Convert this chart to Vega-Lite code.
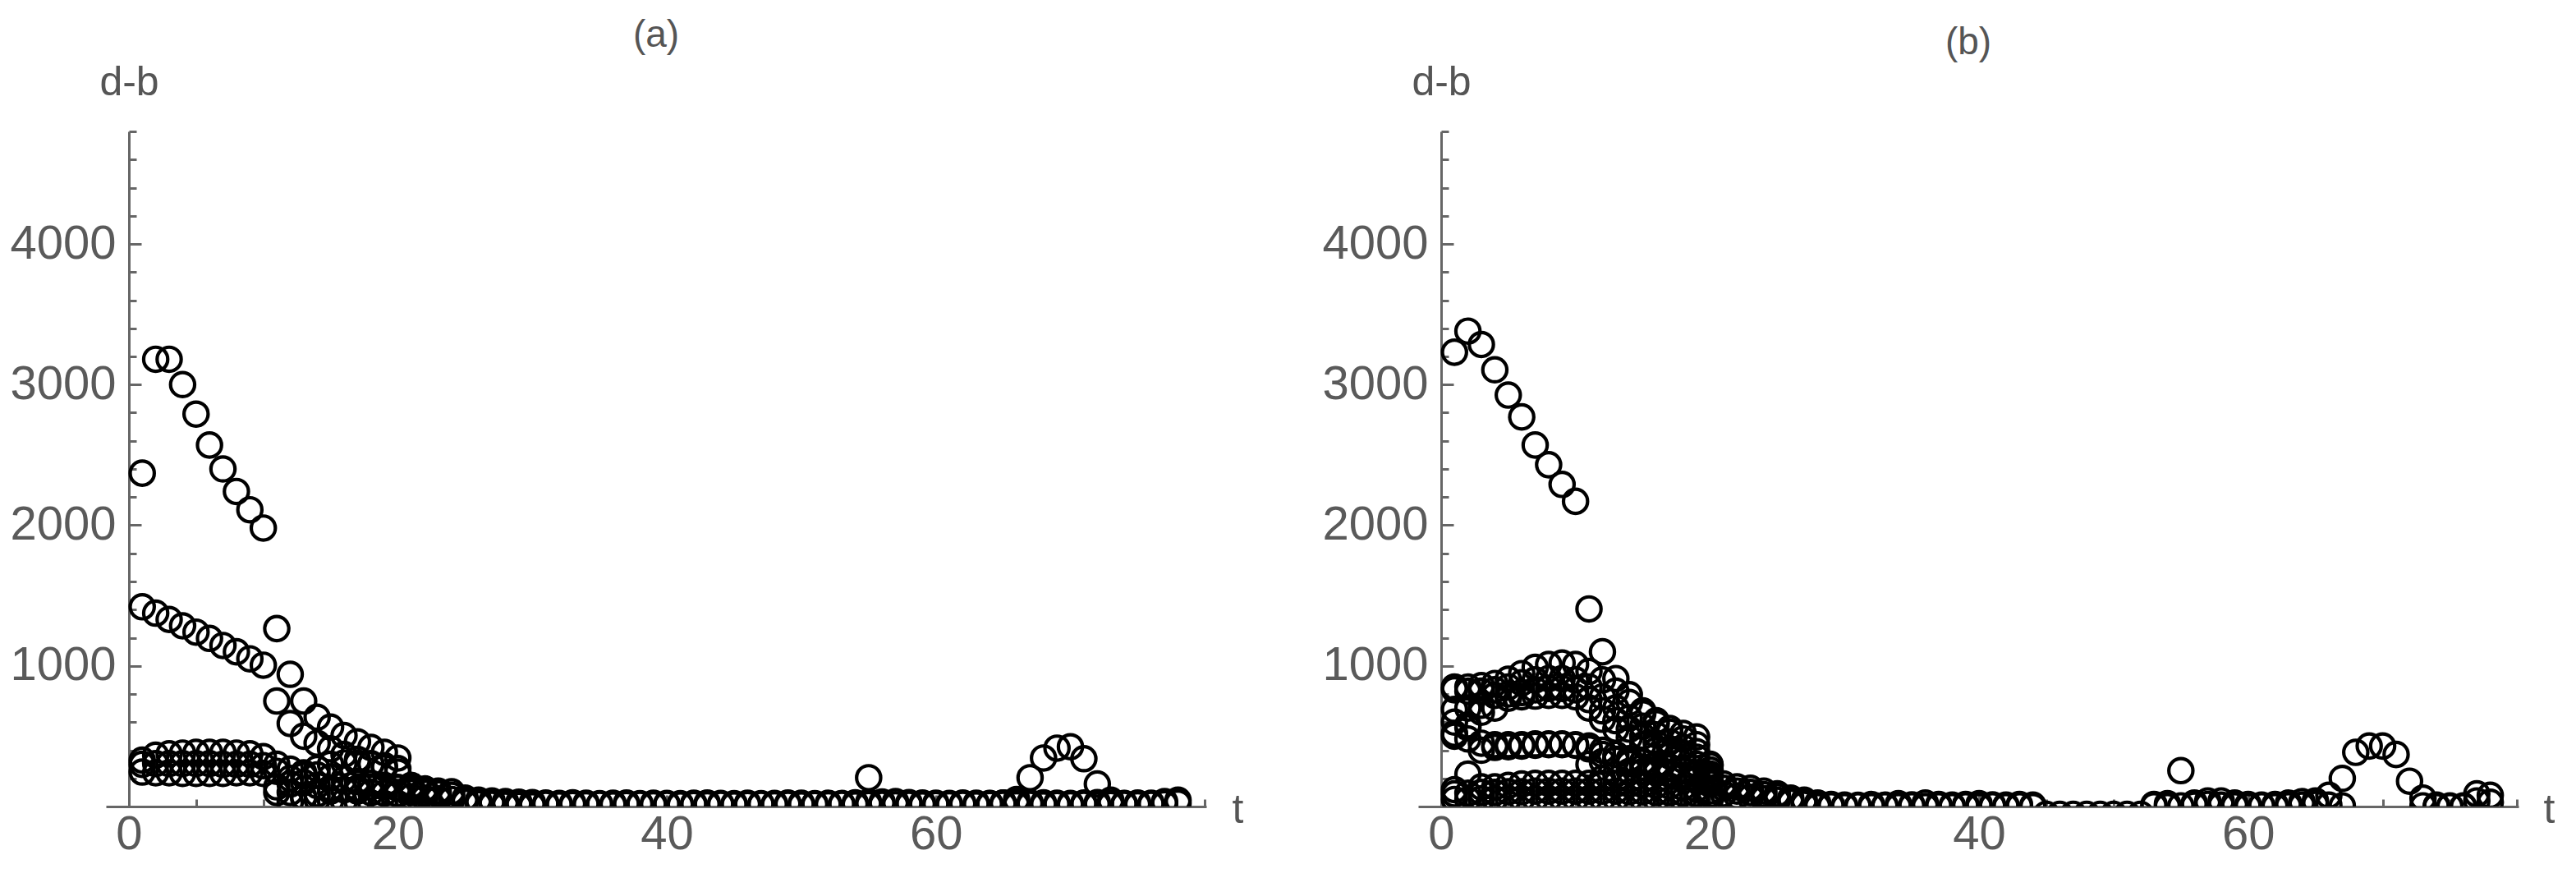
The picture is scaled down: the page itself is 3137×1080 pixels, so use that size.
{
"$schema": "https://vega.github.io/schema/vega-lite/v6.json",
"background": "white",
"padding": {"left": 11, "top": 20, "right": 0, "bottom": 0},
"bounds": "flush",
"spacing": 258,
"config": {"view": {"stroke": null}, "font": "Liberation Sans"},
"data": {"values": [
{"p":"a","t":1,"v":2370},{"p":"a","t":2,"v":3180},{"p":"a","t":3,"v":3180},{"p":"a","t":4,"v":3000},{"p":"a","t":5,"v":2790},{"p":"a","t":6,"v":2570},{"p":"a","t":7,"v":2400},{"p":"a","t":8,"v":2240},{"p":"a","t":9,"v":2110},{"p":"a","t":10,"v":1980},{"p":"a","t":11,"v":1265},{"p":"a","t":12,"v":940},{"p":"a","t":13,"v":750},{"p":"a","t":14,"v":635},{"p":"a","t":15,"v":565},{"p":"a","t":16,"v":505},{"p":"a","t":17,"v":460},{"p":"a","t":18,"v":420},{"p":"a","t":19,"v":385},{"p":"a","t":20,"v":345},{"p":"a","t":21,"v":150},{"p":"a","t":22,"v":125},
{"p":"a","t":1,"v":1420},{"p":"a","t":2,"v":1375},{"p":"a","t":3,"v":1330},{"p":"a","t":4,"v":1285},{"p":"a","t":5,"v":1240},{"p":"a","t":6,"v":1195},{"p":"a","t":7,"v":1145},{"p":"a","t":8,"v":1100},{"p":"a","t":9,"v":1050},{"p":"a","t":10,"v":1005},{"p":"a","t":11,"v":750},{"p":"a","t":12,"v":590},{"p":"a","t":13,"v":500},{"p":"a","t":14,"v":450},{"p":"a","t":15,"v":410},{"p":"a","t":16,"v":370},{"p":"a","t":17,"v":335},{"p":"a","t":18,"v":305},{"p":"a","t":19,"v":275},{"p":"a","t":20,"v":245},{"p":"a","t":21,"v":135},
{"p":"a","t":1,"v":330},{"p":"a","t":2,"v":365},{"p":"a","t":3,"v":375},{"p":"a","t":4,"v":380},{"p":"a","t":5,"v":385},{"p":"a","t":6,"v":385},{"p":"a","t":7,"v":385},{"p":"a","t":8,"v":380},{"p":"a","t":9,"v":375},{"p":"a","t":10,"v":355},{"p":"a","t":11,"v":300},{"p":"a","t":12,"v":265},{"p":"a","t":13,"v":240},{"p":"a","t":14,"v":225},{"p":"a","t":15,"v":210},{"p":"a","t":16,"v":195},{"p":"a","t":17,"v":180},{"p":"a","t":18,"v":165},{"p":"a","t":19,"v":150},{"p":"a","t":20,"v":135},
{"p":"a","t":1,"v":300},{"p":"a","t":2,"v":305},{"p":"a","t":3,"v":305},{"p":"a","t":4,"v":305},{"p":"a","t":5,"v":305},{"p":"a","t":6,"v":305},{"p":"a","t":7,"v":300},{"p":"a","t":8,"v":300},{"p":"a","t":9,"v":300},{"p":"a","t":10,"v":290},{"p":"a","t":11,"v":250},{"p":"a","t":12,"v":200},{"p":"a","t":13,"v":170},{"p":"a","t":14,"v":150},{"p":"a","t":15,"v":130},{"p":"a","t":16,"v":120},{"p":"a","t":17,"v":110},{"p":"a","t":18,"v":100},{"p":"a","t":19,"v":95},{"p":"a","t":20,"v":90},
{"p":"a","t":1,"v":245},{"p":"a","t":2,"v":240},{"p":"a","t":3,"v":240},{"p":"a","t":4,"v":235},{"p":"a","t":5,"v":235},{"p":"a","t":6,"v":235},{"p":"a","t":7,"v":235},{"p":"a","t":8,"v":240},{"p":"a","t":9,"v":240},{"p":"a","t":10,"v":235},{"p":"a","t":11,"v":140},{"p":"a","t":12,"v":100},{"p":"a","t":13,"v":70},{"p":"a","t":14,"v":50},{"p":"a","t":15,"v":40},{"p":"a","t":16,"v":35},{"p":"a","t":17,"v":30},{"p":"a","t":18,"v":25},{"p":"a","t":19,"v":20},{"p":"a","t":20,"v":20},
{"p":"a","t":11,"v":100},{"p":"a","t":12,"v":160},{"p":"a","t":13,"v":220},{"p":"a","t":14,"v":270},{"p":"a","t":15,"v":300},{"p":"a","t":16,"v":310},{"p":"a","t":17,"v":310},{"p":"a","t":18,"v":300},{"p":"a","t":19,"v":290},{"p":"a","t":20,"v":270},
{"p":"a","t":12,"v":30},{"p":"a","t":13,"v":60},{"p":"a","t":14,"v":90},{"p":"a","t":15,"v":110},{"p":"a","t":16,"v":120},{"p":"a","t":17,"v":130},{"p":"a","t":18,"v":140},{"p":"a","t":19,"v":140},{"p":"a","t":20,"v":130},
{"p":"a","t":21,"v":120},{"p":"a","t":22,"v":115},{"p":"a","t":23,"v":110},{"p":"a","t":24,"v":105},{"p":"a","t":25,"v":60},{"p":"a","t":26,"v":45},{"p":"a","t":27,"v":40},{"p":"a","t":28,"v":35},{"p":"a","t":29,"v":30},{"p":"a","t":30,"v":28},
{"p":"a","t":31,"v":25},{"p":"a","t":32,"v":22},{"p":"a","t":33,"v":26},{"p":"a","t":34,"v":24},{"p":"a","t":35,"v":20},{"p":"a","t":36,"v":23},{"p":"a","t":37,"v":25},{"p":"a","t":38,"v":21},{"p":"a","t":39,"v":24},{"p":"a","t":40,"v":22},
{"p":"a","t":41,"v":20},{"p":"a","t":42,"v":23},{"p":"a","t":43,"v":25},{"p":"a","t":44,"v":22},{"p":"a","t":45,"v":21},{"p":"a","t":46,"v":24},{"p":"a","t":47,"v":20},{"p":"a","t":48,"v":22},{"p":"a","t":49,"v":25},{"p":"a","t":50,"v":23},
{"p":"a","t":51,"v":21},{"p":"a","t":52,"v":24},{"p":"a","t":53,"v":22},{"p":"a","t":54,"v":26},{"p":"a","t":55,"v":30},{"p":"a","t":56,"v":32},{"p":"a","t":57,"v":35},{"p":"a","t":58,"v":28},{"p":"a","t":59,"v":25},{"p":"a","t":60,"v":24},
{"p":"a","t":61,"v":22},{"p":"a","t":62,"v":25},{"p":"a","t":63,"v":24},{"p":"a","t":64,"v":22},{"p":"a","t":65,"v":25},{"p":"a","t":66,"v":30},{"p":"a","t":67,"v":28},{"p":"a","t":68,"v":26},{"p":"a","t":69,"v":24},{"p":"a","t":70,"v":22},
{"p":"a","t":71,"v":25},{"p":"a","t":72,"v":28},{"p":"a","t":73,"v":24},{"p":"a","t":74,"v":22},{"p":"a","t":75,"v":25},{"p":"a","t":76,"v":24},{"p":"a","t":77,"v":35},{"p":"a","t":78,"v":45},
{"p":"a","t":21,"v":100},{"p":"a","t":22,"v":95},{"p":"a","t":23,"v":90},{"p":"a","t":24,"v":80},{"p":"a","t":25,"v":45},{"p":"a","t":26,"v":35},{"p":"a","t":27,"v":30},{"p":"a","t":28,"v":25},{"p":"a","t":29,"v":20},{"p":"a","t":30,"v":18},
{"p":"a","t":31,"v":15},{"p":"a","t":32,"v":12},{"p":"a","t":33,"v":14},{"p":"a","t":34,"v":13},{"p":"a","t":35,"v":15},{"p":"a","t":36,"v":12},{"p":"a","t":37,"v":14},{"p":"a","t":38,"v":16},{"p":"a","t":39,"v":13},{"p":"a","t":40,"v":15},
{"p":"a","t":41,"v":12},{"p":"a","t":42,"v":14},{"p":"a","t":43,"v":13},{"p":"a","t":44,"v":15},{"p":"a","t":45,"v":12},{"p":"a","t":46,"v":14},{"p":"a","t":47,"v":16},{"p":"a","t":48,"v":13},{"p":"a","t":49,"v":15},{"p":"a","t":50,"v":12},
{"p":"a","t":51,"v":14},{"p":"a","t":52,"v":13},{"p":"a","t":53,"v":15},{"p":"a","t":54,"v":12},{"p":"a","t":55,"v":14},{"p":"a","t":56,"v":16},{"p":"a","t":57,"v":13},{"p":"a","t":58,"v":15},{"p":"a","t":59,"v":12},{"p":"a","t":60,"v":14},
{"p":"a","t":61,"v":13},{"p":"a","t":62,"v":15},{"p":"a","t":63,"v":12},{"p":"a","t":64,"v":14},{"p":"a","t":65,"v":16},{"p":"a","t":66,"v":13},{"p":"a","t":67,"v":15},{"p":"a","t":68,"v":12},{"p":"a","t":69,"v":14},{"p":"a","t":70,"v":13},
{"p":"a","t":71,"v":15},{"p":"a","t":72,"v":12},{"p":"a","t":73,"v":14},{"p":"a","t":74,"v":16},{"p":"a","t":75,"v":13},{"p":"a","t":76,"v":15},{"p":"a","t":77,"v":20},{"p":"a","t":78,"v":25},
{"p":"a","t":21,"v":70},{"p":"a","t":22,"v":60},{"p":"a","t":23,"v":55},{"p":"a","t":24,"v":50},{"p":"a","t":25,"v":30},{"p":"a","t":26,"v":20},{"p":"a","t":27,"v":15},{"p":"a","t":28,"v":10},{"p":"a","t":29,"v":8},{"p":"a","t":30,"v":6},
{"p":"a","t":64,"v":20},{"p":"a","t":65,"v":25},{"p":"a","t":66,"v":50},{"p":"a","t":67,"v":205},{"p":"a","t":68,"v":345},{"p":"a","t":69,"v":415},{"p":"a","t":70,"v":425},{"p":"a","t":71,"v":340},{"p":"a","t":72,"v":160},{"p":"a","t":73,"v":45},{"p":"a","t":74,"v":20},
{"p":"a","t":55,"v":205},
{"p":"b","t":1,"v":3230},{"p":"b","t":2,"v":3380},{"p":"b","t":3,"v":3285},{"p":"b","t":4,"v":3105},{"p":"b","t":5,"v":2925},{"p":"b","t":6,"v":2770},{"p":"b","t":7,"v":2570},{"p":"b","t":8,"v":2430},{"p":"b","t":9,"v":2290},{"p":"b","t":10,"v":2170},{"p":"b","t":11,"v":1405},{"p":"b","t":12,"v":1100},{"p":"b","t":13,"v":910},{"p":"b","t":14,"v":795},{"p":"b","t":15,"v":680},{"p":"b","t":16,"v":610},{"p":"b","t":17,"v":555},{"p":"b","t":18,"v":520},{"p":"b","t":19,"v":495},{"p":"b","t":20,"v":300},
{"p":"b","t":1,"v":850},{"p":"b","t":2,"v":850},{"p":"b","t":3,"v":860},{"p":"b","t":4,"v":875},{"p":"b","t":5,"v":905},{"p":"b","t":6,"v":945},{"p":"b","t":7,"v":990},{"p":"b","t":8,"v":1010},{"p":"b","t":9,"v":1020},{"p":"b","t":10,"v":1010},{"p":"b","t":11,"v":960},{"p":"b","t":12,"v":900},{"p":"b","t":13,"v":820},{"p":"b","t":14,"v":740},{"p":"b","t":15,"v":660},{"p":"b","t":16,"v":590},{"p":"b","t":17,"v":530},{"p":"b","t":18,"v":480},{"p":"b","t":19,"v":440},{"p":"b","t":20,"v":290},
{"p":"b","t":1,"v":830},{"p":"b","t":2,"v":820},{"p":"b","t":3,"v":820},{"p":"b","t":4,"v":830},{"p":"b","t":5,"v":850},{"p":"b","t":6,"v":880},{"p":"b","t":7,"v":900},{"p":"b","t":8,"v":910},{"p":"b","t":9,"v":910},{"p":"b","t":10,"v":900},{"p":"b","t":11,"v":850},{"p":"b","t":12,"v":780},{"p":"b","t":13,"v":700},{"p":"b","t":14,"v":630},{"p":"b","t":15,"v":570},{"p":"b","t":16,"v":510},{"p":"b","t":17,"v":460},{"p":"b","t":18,"v":420},{"p":"b","t":19,"v":390},{"p":"b","t":20,"v":260},
{"p":"b","t":1,"v":600},{"p":"b","t":2,"v":700},{"p":"b","t":3,"v":720},{"p":"b","t":4,"v":790},{"p":"b","t":5,"v":800},{"p":"b","t":6,"v":810},{"p":"b","t":7,"v":830},{"p":"b","t":8,"v":840},{"p":"b","t":9,"v":840},{"p":"b","t":10,"v":830},{"p":"b","t":11,"v":760},{"p":"b","t":12,"v":680},{"p":"b","t":13,"v":610},{"p":"b","t":14,"v":550},{"p":"b","t":15,"v":500},{"p":"b","t":16,"v":450},{"p":"b","t":17,"v":410},{"p":"b","t":18,"v":380},{"p":"b","t":19,"v":350},{"p":"b","t":20,"v":230},
{"p":"b","t":1,"v":520},{"p":"b","t":2,"v":580},{"p":"b","t":3,"v":670},{"p":"b","t":4,"v":700},{"p":"b","t":5,"v":770},{"p":"b","t":6,"v":780},{"p":"b","t":7,"v":785},{"p":"b","t":8,"v":790},{"p":"b","t":9,"v":790},{"p":"b","t":10,"v":780},{"p":"b","t":11,"v":700},{"p":"b","t":12,"v":620},{"p":"b","t":13,"v":550},{"p":"b","t":14,"v":490},{"p":"b","t":15,"v":440},{"p":"b","t":16,"v":400},{"p":"b","t":17,"v":360},{"p":"b","t":18,"v":330},{"p":"b","t":19,"v":300},{"p":"b","t":20,"v":200},
{"p":"b","t":1,"v":690},{"p":"b","t":2,"v":560},{"p":"b","t":3,"v":400},{"p":"b","t":4,"v":440},{"p":"b","t":5,"v":440},{"p":"b","t":6,"v":440},{"p":"b","t":7,"v":445},{"p":"b","t":8,"v":445},{"p":"b","t":9,"v":445},{"p":"b","t":10,"v":440},{"p":"b","t":11,"v":430},{"p":"b","t":12,"v":400},{"p":"b","t":13,"v":370},{"p":"b","t":14,"v":340},{"p":"b","t":15,"v":315},{"p":"b","t":16,"v":295},{"p":"b","t":17,"v":275},{"p":"b","t":18,"v":255},{"p":"b","t":19,"v":235},{"p":"b","t":20,"v":180},
{"p":"b","t":1,"v":500},{"p":"b","t":2,"v":480},{"p":"b","t":3,"v":450},{"p":"b","t":4,"v":420},{"p":"b","t":5,"v":425},{"p":"b","t":6,"v":430},{"p":"b","t":7,"v":435},{"p":"b","t":8,"v":440},{"p":"b","t":9,"v":440},{"p":"b","t":10,"v":435},{"p":"b","t":11,"v":410},{"p":"b","t":12,"v":370},{"p":"b","t":13,"v":335},{"p":"b","t":14,"v":305},{"p":"b","t":15,"v":280},{"p":"b","t":16,"v":260},{"p":"b","t":17,"v":240},{"p":"b","t":18,"v":220},{"p":"b","t":19,"v":200},{"p":"b","t":20,"v":160},
{"p":"b","t":1,"v":120},{"p":"b","t":2,"v":230},{"p":"b","t":3,"v":140},{"p":"b","t":4,"v":140},{"p":"b","t":5,"v":150},{"p":"b","t":6,"v":160},{"p":"b","t":7,"v":165},{"p":"b","t":8,"v":165},{"p":"b","t":9,"v":165},{"p":"b","t":10,"v":165},{"p":"b","t":11,"v":165},{"p":"b","t":12,"v":165},{"p":"b","t":13,"v":160},{"p":"b","t":14,"v":160},{"p":"b","t":15,"v":155},{"p":"b","t":16,"v":150},{"p":"b","t":17,"v":145},{"p":"b","t":18,"v":135},{"p":"b","t":19,"v":125},{"p":"b","t":20,"v":110},
{"p":"b","t":1,"v":90},{"p":"b","t":2,"v":95},{"p":"b","t":3,"v":100},{"p":"b","t":4,"v":100},{"p":"b","t":5,"v":105},{"p":"b","t":6,"v":105},{"p":"b","t":7,"v":110},{"p":"b","t":8,"v":110},{"p":"b","t":9,"v":110},{"p":"b","t":10,"v":110},{"p":"b","t":11,"v":110},{"p":"b","t":12,"v":110},{"p":"b","t":13,"v":110},{"p":"b","t":14,"v":105},{"p":"b","t":15,"v":105},{"p":"b","t":16,"v":100},{"p":"b","t":17,"v":100},{"p":"b","t":18,"v":95},{"p":"b","t":19,"v":90},{"p":"b","t":20,"v":85},
{"p":"b","t":1,"v":50},{"p":"b","t":2,"v":50},{"p":"b","t":3,"v":55},{"p":"b","t":4,"v":55},{"p":"b","t":5,"v":55},{"p":"b","t":6,"v":55},{"p":"b","t":7,"v":55},{"p":"b","t":8,"v":55},{"p":"b","t":9,"v":55},{"p":"b","t":10,"v":55},{"p":"b","t":11,"v":55},{"p":"b","t":12,"v":55},{"p":"b","t":13,"v":55},{"p":"b","t":14,"v":55},{"p":"b","t":15,"v":50},{"p":"b","t":16,"v":50},{"p":"b","t":17,"v":50},{"p":"b","t":18,"v":45},{"p":"b","t":19,"v":45},{"p":"b","t":20,"v":45},
{"p":"b","t":11,"v":300},{"p":"b","t":12,"v":320},{"p":"b","t":13,"v":330},{"p":"b","t":14,"v":330},{"p":"b","t":15,"v":320},{"p":"b","t":16,"v":300},{"p":"b","t":17,"v":280},{"p":"b","t":18,"v":260},{"p":"b","t":19,"v":240},{"p":"b","t":20,"v":220},
{"p":"b","t":12,"v":200},{"p":"b","t":13,"v":230},{"p":"b","t":14,"v":250},{"p":"b","t":15,"v":250},{"p":"b","t":16,"v":240},{"p":"b","t":17,"v":230},{"p":"b","t":18,"v":215},{"p":"b","t":19,"v":200},{"p":"b","t":20,"v":170},
{"p":"b","t":21,"v":160},{"p":"b","t":22,"v":140},{"p":"b","t":23,"v":130},{"p":"b","t":24,"v":110},{"p":"b","t":25,"v":90},{"p":"b","t":26,"v":60},{"p":"b","t":27,"v":45},{"p":"b","t":28,"v":25},{"p":"b","t":29,"v":15},{"p":"b","t":30,"v":10},{"p":"b","t":31,"v":8},{"p":"b","t":32,"v":15},{"p":"b","t":33,"v":10},{"p":"b","t":34,"v":20},{"p":"b","t":35,"v":12},{"p":"b","t":36,"v":25},{"p":"b","t":37,"v":15},{"p":"b","t":38,"v":10},{"p":"b","t":39,"v":15},{"p":"b","t":40,"v":20},{"p":"b","t":41,"v":12},{"p":"b","t":42,"v":10},{"p":"b","t":43,"v":15},{"p":"b","t":44,"v":10},{"p":"b","t":53,"v":15},{"p":"b","t":54,"v":20},{"p":"b","t":56,"v":25},{"p":"b","t":57,"v":40},{"p":"b","t":58,"v":40},{"p":"b","t":59,"v":25},{"p":"b","t":60,"v":15},{"p":"b","t":61,"v":10},{"p":"b","t":62,"v":15},{"p":"b","t":63,"v":25},{"p":"b","t":64,"v":35},{"p":"b","t":65,"v":40},{"p":"b","t":74,"v":5},{"p":"b","t":75,"v":0},{"p":"b","t":76,"v":5},{"p":"b","t":77,"v":90},{"p":"b","t":78,"v":80},
{"p":"b","t":21,"v":130},{"p":"b","t":22,"v":110},{"p":"b","t":23,"v":100},{"p":"b","t":24,"v":85},{"p":"b","t":25,"v":70},{"p":"b","t":26,"v":45},{"p":"b","t":27,"v":30},{"p":"b","t":28,"v":10},{"p":"b","t":29,"v":5},{"p":"b","t":30,"v":0},{"p":"b","t":31,"v":5},{"p":"b","t":32,"v":0},{"p":"b","t":33,"v":5},{"p":"b","t":34,"v":0},{"p":"b","t":35,"v":5},{"p":"b","t":36,"v":0},{"p":"b","t":37,"v":5},{"p":"b","t":38,"v":0},{"p":"b","t":39,"v":5},{"p":"b","t":40,"v":0},{"p":"b","t":41,"v":5},{"p":"b","t":42,"v":0},{"p":"b","t":43,"v":5},{"p":"b","t":44,"v":0},{"p":"b","t":53,"v":5},{"p":"b","t":54,"v":0},{"p":"b","t":55,"v":5},{"p":"b","t":56,"v":10},{"p":"b","t":57,"v":15},{"p":"b","t":58,"v":10},{"p":"b","t":59,"v":5},{"p":"b","t":60,"v":0},{"p":"b","t":61,"v":5},{"p":"b","t":62,"v":0},{"p":"b","t":63,"v":5},{"p":"b","t":64,"v":10},{"p":"b","t":65,"v":15},{"p":"b","t":66,"v":10},{"p":"b","t":67,"v":5},{"p":"b","t":73,"v":5},{"p":"b","t":74,"v":0},{"p":"b","t":75,"v":5},{"p":"b","t":76,"v":0},{"p":"b","t":77,"v":40},{"p":"b","t":78,"v":30},
{"p":"b","t":21,"v":90},{"p":"b","t":22,"v":75},{"p":"b","t":23,"v":65},{"p":"b","t":24,"v":55},{"p":"b","t":25,"v":45},{"p":"b","t":26,"v":30},{"p":"b","t":27,"v":15},{"p":"b","t":28,"v":0},
{"p":"b","t":45,"v":-55},{"p":"b","t":46,"v":-55},{"p":"b","t":47,"v":-55},{"p":"b","t":48,"v":-55},{"p":"b","t":49,"v":-55},{"p":"b","t":50,"v":-55},{"p":"b","t":51,"v":-55},{"p":"b","t":52,"v":-55},
{"p":"b","t":65,"v":20},{"p":"b","t":66,"v":80},{"p":"b","t":67,"v":200},{"p":"b","t":68,"v":385},{"p":"b","t":69,"v":430},{"p":"b","t":70,"v":430},{"p":"b","t":71,"v":370},{"p":"b","t":72,"v":180},{"p":"b","t":73,"v":60},{"p":"b","t":74,"v":10},
{"p":"b","t":55,"v":255}
]},
"hconcat": [
{
 "width": 1340, "height": 822,
 "transform": [{"filter": "datum.p === 'a'"}],
 "title": {"text": "(a)", "fontSize": 46, "fontWeight": "normal", "color": "#555555", "frame": "group", "anchor": "middle", "offset": 8, "font": "Liberation Sans"},
 "resolve": {"axis": {"x": "independent", "y": "independent"}},
 "layer": [
  {"mark": {"type": "point", "shape": "circle", "filled": false, "stroke": "black", "strokeWidth": 4.2, "size": 860, "clip": true, "opacity": 1},
   "encoding": {
    "x": {"field": "t", "type": "quantitative", "scale": {"domain": [-1.7, 80.1], "nice": false, "zero": false},
      "axis": {"orient": "bottom", "values": [0, 20, 40, 60], "format": "d", "grid": false, "title": "t", "titleX": 1378, "titleY": 4, "titleAlign": "center", "titleBaseline": "middle", "titleAngle": 0, "titleFontSize": 50, "titleFontWeight": "normal", "titleColor": "#555555", "titleFont": "Liberation Sans", "labelFont": "Liberation Sans", "labelFontSize": 58, "labelColor": "#5a5a5a", "labelPadding": 19, "labelFlush": false, "labelOverlap": false, "tickSize": -14, "tickWidth": 3, "tickColor": "#666666", "domainColor": "#666666", "domainWidth": 3}},
    "y": {"field": "v", "type": "quantitative", "scale": {"domain": [0, 4800], "nice": false, "zero": false},
      "axis": {"orient": "left", "offset": -28, "values": [1000, 2000, 3000, 4000], "format": "d", "grid": false, "title": "d-b", "titleX": 0, "titleY": -60, "titleAlign": "center", "titleBaseline": "middle", "titleAngle": 0, "titleFontSize": 50, "titleFontWeight": "normal", "titleColor": "#555555", "titleFont": "Liberation Sans", "labelFont": "Liberation Sans", "labelFontSize": 58, "labelColor": "#5a5a5a", "labelPadding": 31, "labelFlush": false, "labelOverlap": false, "tickSize": -15, "tickWidth": 3, "tickColor": "#666666", "domainColor": "#666666", "domainWidth": 3}}
   }},
  {"mark": {"type": "point", "opacity": 0},
   "encoding": {
    "x": {"field": "t", "type": "quantitative", "axis": {"orient": "bottom", "values": [5, 10, 15, 25, 30, 35, 45, 50, 55, 65, 70, 75, 80], "labels": false, "domain": false, "grid": false, "title": null, "tickSize": -9, "tickWidth": 3, "tickColor": "#666666"}},
    "y": {"field": "v", "type": "quantitative", "axis": {"orient": "left", "offset": -28, "values": [200, 400, 600, 800, 1200, 1400, 1600, 1800, 2200, 2400, 2600, 2800, 3200, 3400, 3600, 3800, 4200, 4400, 4600, 4800], "labels": false, "domain": false, "grid": false, "title": null, "tickSize": -9, "tickWidth": 3, "tickColor": "#666666"}}
   }}
 ]
},
{
 "width": 1340, "height": 822,
 "transform": [{"filter": "datum.p === 'b'"}],
 "title": {"text": "(b)", "fontSize": 46, "fontWeight": "normal", "color": "#555555", "frame": "group", "anchor": "middle", "offset": -1, "font": "Liberation Sans"},
 "resolve": {"axis": {"x": "independent", "y": "independent"}},
 "layer": [
  {"mark": {"type": "point", "shape": "circle", "filled": false, "stroke": "black", "strokeWidth": 4.2, "size": 860, "clip": true, "opacity": 1},
   "encoding": {
    "x": {"field": "t", "type": "quantitative", "scale": {"domain": [-1.7, 80.1], "nice": false, "zero": false},
      "axis": {"orient": "bottom", "values": [0, 20, 40, 60], "format": "d", "grid": false, "title": "t", "titleX": 1377, "titleY": 4, "titleAlign": "center", "titleBaseline": "middle", "titleAngle": 0, "titleFontSize": 50, "titleFontWeight": "normal", "titleColor": "#555555", "titleFont": "Liberation Sans", "labelFont": "Liberation Sans", "labelFontSize": 58, "labelColor": "#5a5a5a", "labelPadding": 19, "labelFlush": false, "labelOverlap": false, "tickSize": -14, "tickWidth": 3, "tickColor": "#666666", "domainColor": "#666666", "domainWidth": 3}},
    "y": {"field": "v", "type": "quantitative", "scale": {"domain": [0, 4800], "nice": false, "zero": false},
      "axis": {"orient": "left", "offset": -28, "values": [1000, 2000, 3000, 4000], "format": "d", "grid": false, "title": "d-b", "titleX": 0, "titleY": -60, "titleAlign": "center", "titleBaseline": "middle", "titleAngle": 0, "titleFontSize": 50, "titleFontWeight": "normal", "titleColor": "#555555", "titleFont": "Liberation Sans", "labelFont": "Liberation Sans", "labelFontSize": 58, "labelColor": "#5a5a5a", "labelPadding": 31, "labelFlush": false, "labelOverlap": false, "tickSize": -15, "tickWidth": 3, "tickColor": "#666666", "domainColor": "#666666", "domainWidth": 3}}
   }},
  {"mark": {"type": "point", "opacity": 0},
   "encoding": {
    "x": {"field": "t", "type": "quantitative", "axis": {"orient": "bottom", "values": [5, 10, 15, 25, 30, 35, 45, 50, 55, 65, 70, 75, 80], "labels": false, "domain": false, "grid": false, "title": null, "tickSize": -9, "tickWidth": 3, "tickColor": "#666666"}},
    "y": {"field": "v", "type": "quantitative", "axis": {"orient": "left", "offset": -28, "values": [200, 400, 600, 800, 1200, 1400, 1600, 1800, 2200, 2400, 2600, 2800, 3200, 3400, 3600, 3800, 4200, 4400, 4600, 4800], "labels": false, "domain": false, "grid": false, "title": null, "tickSize": -9, "tickWidth": 3, "tickColor": "#666666"}}
   }}
 ]
}
]
}
